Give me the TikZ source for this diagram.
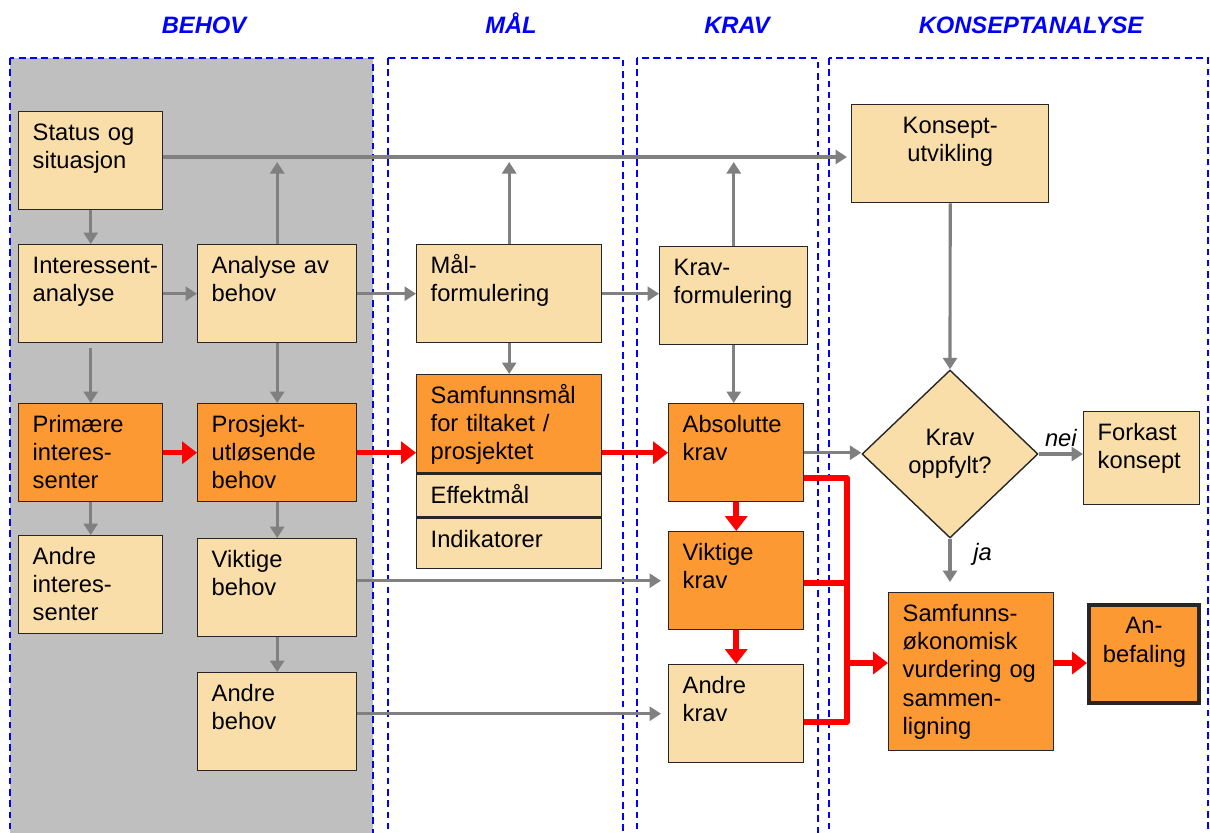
\documentclass[tikz,border=0pt]{standalone}
\usepackage{fontspec}
\setmainfont{Liberation Sans}
\usetikzlibrary{arrows.meta,positioning,shapes.geometric}

\definecolor{palefill}{RGB}{250,222,170}
\definecolor{hotfill}{RGB}{253,153,51}
\definecolor{panelgray}{RGB}{191,191,191}
\definecolor{linegray}{RGB}{128,128,128}
\definecolor{headblue}{RGB}{0,0,255}

\newcommand{\boxfont}{\fontsize{13.5}{16}\selectfont\hyphenpenalty=10000 \exhyphenpenalty=10000 }

\tikzset{
  box/.style   = {draw=black!85, line width=0.8pt, anchor=north west, align=left,
                  inner xsep=2.8mm, inner ysep=0pt, text height=5.8mm, text depth=13.8mm,
                  font=\boxfont},
  pale/.style  = {fill=palefill},
  hot/.style   = {fill=hotfill},
  head/.style  = {anchor=base, text=headblue, font=\fontsize{13.5}{16}\selectfont\bfseries\itshape},
  panel/.style = {draw=headblue, line width=0.9pt, dash pattern=on 3.8pt off 2.6pt},
  gline/.style = {-{Triangle[length=2.3mm,width=2.8mm]}, draw=linegray, line width=1.8pt},
  rline/.style = {-{Triangle[length=3mm,width=4.4mm]}, draw=red, line width=3.1pt},
  rbus/.style  = {draw=red, line width=3.1pt, line join=round},
}

\begin{document}
\begin{tikzpicture}[x=0.2mm, y=-0.2mm]
  \useasboundingbox (0,0) rectangle (1210,832);

  % columns
  \fill[panelgray] (10,58) rectangle (373,850);
  \draw[panel] (10,58) rectangle (373,850);
  \draw[panel] (388,58) rectangle (623,850);
  \draw[panel] (637,58) rectangle (818,850);
  \draw[panel] (829,58) rectangle (1208,850);

  \node[head] (hbehov) at (204,33) {BEHOV};
  \node[head] (hmal)   at (511,33) {MÅL};
  \node[head] (hkrav)  at (737,33) {KRAV};
  \node[head] (hkons)  at (1031,33) {KONSEPTANALYSE};

  % behov
  \node[box,pale,text width=23.2mm] (stat)   at (18,111)  {Status og\\situasjon};
  \node[box,pale,text width=23.2mm] (intan)  at (18,244)  {Interessent-\\analyse};
  \node[box,hot, text width=23.2mm] (prim)   at (18,403)  {Primære\\interes-\\senter};
  \node[box,pale,text width=23.2mm] (andint) at (18,535)  {Andre\\interes-\\senter};
  \node[box,pale,text width=26.2mm] (anbeh)  at (197,244) {Analyse av\\behov};
  \node[box,hot, text width=26.2mm] (prosj)  at (197,403) {Prosjekt-\\utløsende\\behov};
  \node[box,pale,text width=26.2mm] (vikbeh) at (197,538) {Viktige\\behov};
  \node[box,pale,text width=26.2mm] (andbeh) at (197,672) {Andre\\behov};

  % mål
  \node[box,pale,text width=31.4mm] (malf) at (416,244) {Mål-\\formulering};
  \node[box,hot, text width=31.4mm] (smal) at (416,374) {Samfunnsmål\\for tiltaket /\\prosjektet};
  \node[box,pale,text width=31.4mm,text depth=2.8mm] (effm)  at (smal.south west) {Effektmål};
  \node[box,pale,text width=31.4mm,text depth=4.2mm] (indik) at (effm.south west) {Indikatorer};

  % krav
  \node[box,pale,text width=24mm]   (kravf) at (659,246) {Krav-\\formulering};
  \node[box,hot, text width=21.4mm] (absk)  at (668,403) {Absolutte\\krav};
  \node[box,hot, text width=21.4mm] (vikk)  at (668,531) {Viktige\\krav};
  \node[box,pale,text width=21.4mm] (andk)  at (668,664) {Andre\\krav};

  % konseptanalyse
  \node[box,pale,text width=33.8mm,align=center] (kons) at (851,104) {Konsept-\\utvikling};
  \node[diamond,draw=black!85,line width=0.8pt,pale,minimum width=35.2mm,minimum height=33.6mm,
        inner sep=0pt,align=center,font=\boxfont] (oppf) at (950,454) {Krav\\oppfylt?};
  \node[box,pale,text width=17.6mm,text depth=12.8mm] (fork) at (1083,411) {Forkast\\konsept};
  \node[box,hot,text width=27.4mm,text depth=25.8mm] (soek) at (888,592)
       {Samfunns-\\økonomisk\\vurdering og\\sammen-\\ligning};
  \node[box,hot,text width=16.4mm,align=center,line width=2.2pt] (anbef) at (1087,603) {An-\\befaling};

  % grey flow
  \coordinate (toprow) at (0,157);
  \draw[gline,shorten >=0.8mm] (stat.east |- toprow) -- (kons.west |- toprow);
  \foreach \n in {anbeh,malf,kravf}
    \draw[gline,shorten >=1mm] (\n.north) -- (\n.north |- toprow);
  \draw[gline] (stat.south) -- (intan.north);
  \draw[gline,shorten <=1mm] (intan.south) -- (prim.north);
  \draw[gline] (prim.south) -- (andint.north);
  \draw[gline] (anbeh.south) -- (prosj.north);
  \draw[gline] (prosj.south) -- (vikbeh.north);
  \draw[gline] (vikbeh.south) -- (andbeh.north);
  \draw[gline] (malf.south) -- (smal.north);
  \draw[gline] (kravf.south) -- (kravf.south |- absk.north);
  \draw[gline] (intan.east) -- (intan.east -| anbeh.west);
  \draw[gline] (anbeh.east) -- (anbeh.east -| malf.west);
  \draw[gline] (malf.east) -- (malf.east -| kravf.west);
  \draw[gline,shorten >=1.4mm] (vikbeh.east |- vikk.west) -- (vikk.west);
  \draw[gline,shorten >=1.4mm] (andbeh.east |- andk.west) -- (andk.west);
  \draw[gline] (absk.east) -- (absk.east -| oppf.west);
  \draw[gline] (kons.south) -- (oppf.north);
  \draw[gline] (oppf.east) -- node[above,font=\boxfont\itshape] (nei) {nei} (oppf.east -| fork.west);
  \draw[gline,shorten >=2mm] (oppf.south) -- node[pos=0.3,right=3.2mm,font=\boxfont\itshape] (ja) {ja}
       (oppf.south |- soek.north);

  % red flow
  \coordinate (busA) at (847,478);
  \coordinate (busB) at (847,583);
  \coordinate (busC) at (847,722);
  \coordinate (busO) at (847,663);
  \draw[rline] (prim.east) -- (prim.east -| prosj.west);
  \draw[rline] (prosj.east) -- (prosj.east -| smal.west);
  \draw[rline] (smal.east |- absk.west) -- (absk.west);
  \draw[rline] (absk.south) -- (vikk.north);
  \draw[rline] (vikk.south) -- (andk.north);
  \draw[rbus] (absk.east |- busA) -- (busA) -- (busC) -- (andk.east |- busC);
  \draw[rbus] (vikk.east |- busB) -- (busB);
  \draw[rline] (busO) -- (soek.west |- busO);
  \draw[rline] (soek.east |- busO) -- (anbef.west |- busO);
\end{tikzpicture}
\end{document}
